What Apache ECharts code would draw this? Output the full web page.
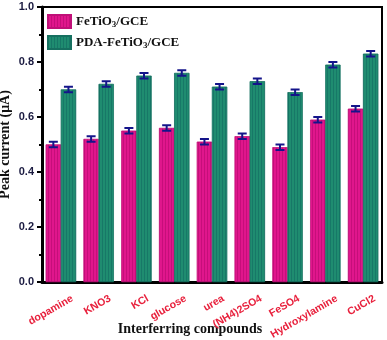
<!DOCTYPE html>
<html>
<head>
<meta charset="utf-8">
<script src="https://cdn.jsdelivr.net/npm/echarts@6/dist/echarts.min.js"></script>
<style>
  html, body { margin: 0; padding: 0; background: #fff; }
  #chart { width: 387px; height: 340px; }
</style>
</head>
<body>
<div id="chart"></div>
<script>
// interfering compounds
var categories = ['dopamine', 'KNO3', 'KCl', 'glucose', 'urea', '(NH4)2SO4', 'FeSO4', 'Hydroxylamine', 'CuCl2'];
// peak current (uA)
var fetio3 = [0.50, 0.52, 0.55, 0.56, 0.51, 0.53, 0.49, 0.59, 0.63];
var pdaFetio3 = [0.70, 0.72, 0.75, 0.76, 0.71, 0.73, 0.69, 0.79, 0.83];
var fetio3Err = [0.01, 0.01, 0.01, 0.01, 0.01, 0.01, 0.01, 0.01, 0.01];
var pdaErr = [0.01, 0.01, 0.01, 0.01, 0.01, 0.01, 0.01, 0.01, 0.01];

var pink = '#e0168c';
var green = '#1f8c70';
var errColor = '#14148a';

// build error bar data [categoryIndex, low, high]
function errData(vals, errs) {
  var out = [];
  for (var i = 0; i < vals.length; i++) {
    out.push([i, vals[i] - errs[i], vals[i] + errs[i]]);
  }
  return out;
}

function errRender(offsetSign) {
  return function (params, api) {
    var idx = api.value(0);
    var lo = api.coord([idx, api.value(1)]);
    var hi = api.coord([idx, api.value(2)]);
    var cat = api.size([1, 0])[0];
    var x = lo[0] + offsetSign * cat * 0.2;
    var half = 4.5;
    var style = { stroke: errColor, lineWidth: 2 };
    return {
      type: 'group',
      children: [
        { type: 'line', shape: { x1: x, y1: hi[1], x2: x, y2: lo[1] }, style: style },
        { type: 'line', shape: { x1: x - half, y1: hi[1], x2: x + half, y2: hi[1] }, style: style },
        { type: 'line', shape: { x1: x - half, y1: lo[1], x2: x + half, y2: lo[1] }, style: style }
      ]
    };
  };
}

var stripe = {
  symbol: 'rect',
  symbolSize: 1,
  dashArrayX: [1, 2],
  dashArrayY: [1, 0],
  rotation: 0
};

var option = {
  animation: false,
  backgroundColor: '#fff',
  grid: {
    left: 42, right: 5, top: 7, bottom: 58,
    outerBoundsMode: 'none',
    containLabel: false,
    show: true, borderColor: '#000', borderWidth: 2, backgroundColor: 'transparent'
  },
  legend: {
    left: 47, top: 14, orient: 'vertical', itemGap: 6, icon: 'rect', padding: 0,
    itemWidth: 23, itemHeight: 13,
    textStyle: {
      fontFamily: 'Liberation Serif', fontWeight: 'bold', fontSize: 13, color: '#111',
      rich: {
        n: { fontFamily: 'Liberation Serif', fontWeight: 'bold', fontSize: 13, color: '#111' },
        s: { fontFamily: 'Liberation Serif', fontWeight: 'bold', fontSize: 9, color: '#111', verticalAlign: 'bottom', padding: [6, 0, 0, 0] }
      }
    },
    formatter: function (name) {
      if (name === 'FeTiO3/GCE') return '{n|FeTiO}{s|3}{n|/GCE}';
      return '{n|PDA-FeTiO}{s|3}{n|/GCE}';
    },
    data: ['FeTiO3/GCE', 'PDA-FeTiO3/GCE']
  },
  xAxis: [{
    type: 'category',
    data: categories,
    name: 'Interferring compounds',
    nameLocation: 'middle',
    nameGap: 40,
    nameMoveOverlap: false,
    nameTextStyle: { fontFamily: 'Liberation Serif', fontWeight: 'bold', fontSize: 14, color: '#111', padding: [0, 44, 0, 0] },
    axisLine: { lineStyle: { color: '#000', width: 3 } },
    axisTick: { alignWithLabel: true, length: 5, lineStyle: { color: '#000', width: 2 } },
    axisLabel: {
      rotate: 30, interval: 0, margin: 16,
      align: 'right', verticalAlign: 'top', padding: [0, -10, 0, 0],
      fontFamily: 'Liberation Sans', fontWeight: 'bold', fontSize: 10.5, color: '#e8203c'
    }
  }, {
    type: 'category',
    data: categories,
    position: 'bottom',
    axisLine: { show: false },
    axisTick: { length: 3, lineStyle: { color: '#000', width: 2 } },
    axisLabel: { show: false }
  }],
  yAxis: {
    type: 'value',
    min: 0, max: 1.0, interval: 0.2,
    name: 'Peak current (\u03bcA)',
    nameLocation: 'middle',
    nameGap: 30,
    nameMoveOverlap: false,
    nameTextStyle: { fontFamily: 'Liberation Serif', fontWeight: 'bold', fontSize: 14, color: '#111' },
    axisLine: { show: true, lineStyle: { color: '#000', width: 3 } },
    axisTick: { show: true, length: 5, lineStyle: { color: '#000', width: 2 } },
    minorTick: { show: true, splitNumber: 2, length: 3, lineStyle: { color: '#000', width: 2 } },
    splitLine: { show: false },
    axisLabel: {
      margin: 8, fontFamily: 'Liberation Sans', fontWeight: 'bold', fontSize: 11, color: '#1a1a40',
      formatter: function (v) { return v.toFixed(1); }
    }
  },
  series: [{
    name: 'FeTiO3/GCE',
    type: 'bar',
    data: fetio3,
    barGap: '0%',
    barCategoryGap: '20%',
    itemStyle: { color: pink, borderColor: '#c01078', borderWidth: 0.5,
      decal: Object.assign({ color: 'rgba(150,0,90,0.35)' }, stripe) }
  }, {
    name: 'PDA-FeTiO3/GCE',
    type: 'bar',
    data: pdaFetio3,
    itemStyle: { color: green, borderColor: '#167060', borderWidth: 0.5,
      decal: Object.assign({ color: 'rgba(10,90,90,0.4)' }, stripe) }
  }, {
    type: 'custom',
    renderItem: errRender(-1),
    data: errData(fetio3, fetio3Err),
    encode: { x: 0, y: [1, 2] },
    z: 10
  }, {
    type: 'custom',
    renderItem: errRender(1),
    data: errData(pdaFetio3, pdaErr),
    encode: { x: 0, y: [1, 2] },
    z: 10
  }]
};

var myChart = echarts.init(document.getElementById('chart'));
myChart.setOption(option);
</script>
</body>
</html>
